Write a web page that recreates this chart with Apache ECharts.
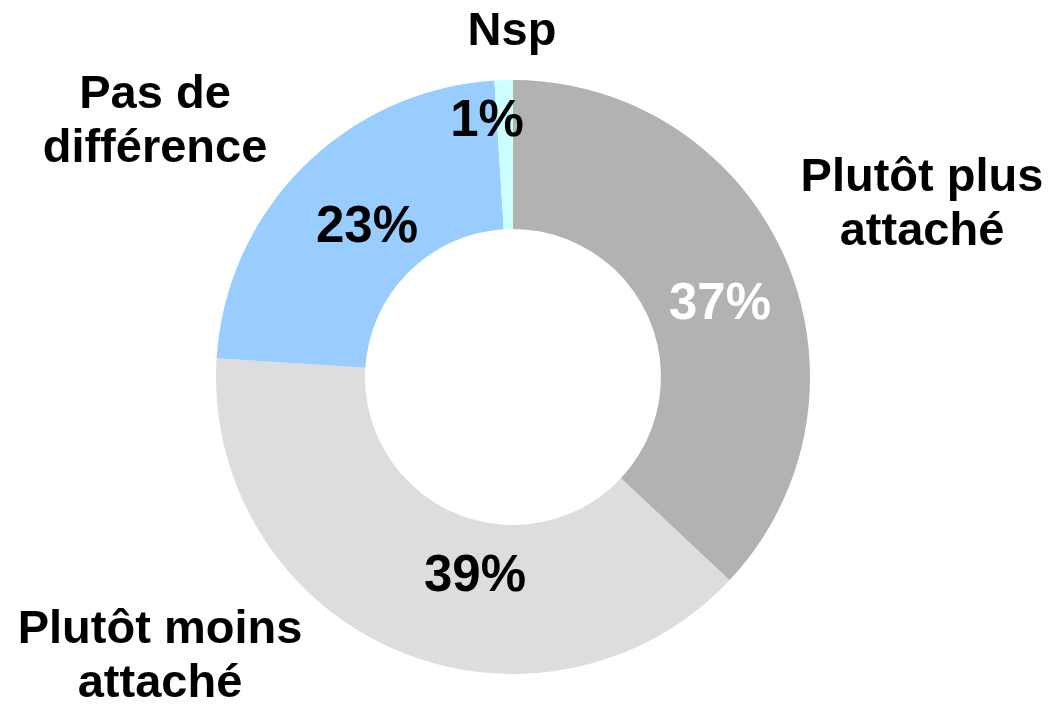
<!DOCTYPE html>
<html>
<head>
<meta charset="utf-8">
<script src="https://cdn.jsdelivr.net/npm/echarts@6/dist/echarts.min.js"></script>
<style>
html,body{margin:0;padding:0;background:#fff;}
#chart{width:1050px;height:705px;}
</style>
</head>
<body>
<div id="chart"></div>
<script>
// Data
var categories = ['Plutôt plus\nattaché', 'Plutôt moins\nattaché', 'Pas de\ndifférence', 'Nsp'];
var values = [37, 39, 23, 1];

// Styling (not data)
var colors = ['#b2b2b2', '#dddddd', '#99ccff', '#ccffff'];
var pctColors = ['#ffffff', '#000000', '#000000', '#000000'];
var pctPos = [[720, 305], [475, 577], [367, 228], [487, 122]];
var namePos = [[922, 205], [160, 657], [155, 122], [512, 32]];
var FONT = '"Liberation Sans", Arial, sans-serif';

var chart = echarts.init(document.getElementById('chart'), null, {renderer: 'canvas'});

var pieData = values.map(function (v, i) {
  return {
    value: v,
    name: categories[i],
    itemStyle: {color: colors[i]},
    label: {color: pctColors[i]}
  };
});
var nameData = values.map(function (v, i) {
  return {value: v, name: categories[i]};
});

chart.setOption({
  animation: false,
  backgroundColor: '#ffffff',
  series: [
    {
      type: 'pie',
      center: [513, 377],
      radius: [148, 297],
      startAngle: 90,
      clockwise: true,
      avoidLabelOverlap: false,
      silent: true,
      itemStyle: {borderWidth: 0},
      label: {
        show: true,
        position: 'inside',
        formatter: '{c}%',
        fontFamily: FONT,
        fontWeight: 'bold',
        fontSize: 51
      },
      labelLine: {show: false},
      labelLayout: function (p) {
        var q = pctPos[p.dataIndex];
        return {x: q[0], y: q[1], align: 'center', verticalAlign: 'middle'};
      },
      data: pieData
    },
    {
      type: 'pie',
      center: [513, 377],
      radius: [148, 297],
      startAngle: 90,
      clockwise: true,
      avoidLabelOverlap: false,
      silent: true,
      itemStyle: {color: 'rgba(0,0,0,0)', borderWidth: 0},
      label: {
        show: true,
        position: 'outside',
        formatter: '{b}',
        color: '#000000',
        fontFamily: FONT,
        fontWeight: 'bold',
        fontSize: 47,
        lineHeight: 54,
        align: 'center'
      },
      labelLine: {show: false},
      labelLayout: function (p) {
        var q = namePos[p.dataIndex];
        return {x: q[0], y: q[1], align: 'center', verticalAlign: 'middle'};
      },
      data: nameData
    }
  ]
});
</script>
</body>
</html>
